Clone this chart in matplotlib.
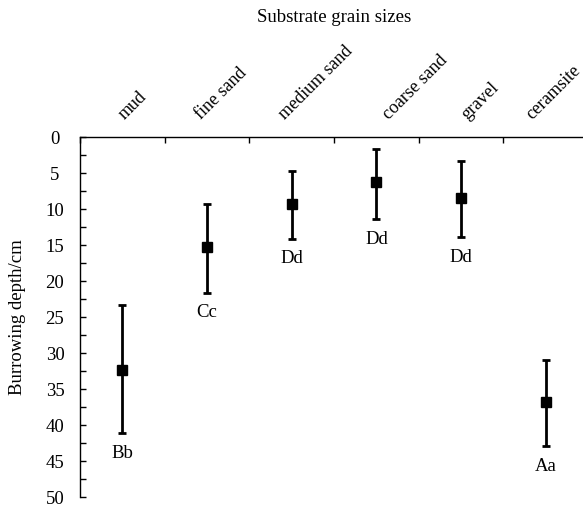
import matplotlib
matplotlib.use("Agg")
import matplotlib.pyplot as plt
from matplotlib.ticker import MultipleLocator, FixedLocator, NullFormatter

plt.rcParams["font.family"] = ["Liberation Serif", "DejaVu Serif"]
plt.rcParams["font.size"] = 13.5

# data
substrates = ["mud", "fine sand", "medium sand", "coarse sand", "gravel", "ceramsite"]
depth_mean = [32.3, 15.3, 9.35, 6.25, 8.5, 36.85]
err_upper = [8.9, 6.0, 4.65, 4.55, 5.2, 5.85]   # towards the surface (smaller depth)
err_lower = [8.85, 6.3, 4.75, 5.15, 5.4, 6.05]  # towards deeper values
groups = ["Bb", "Cc", "Dd", "Dd", "Dd", "Aa"]

# small horizontal nudges (px) of the rotated category labels, as in the original
label_dx = [2, -6, -7, 13, 6, -13]

W, H, DPI = 583, 505, 100
fig = plt.figure(figsize=(W / DPI, H / DPI), dpi=DPI)
# plot area: left spine x=80px, top spine y=137px, bottom y=497px, right edge past the image
ax = fig.add_axes([80 / W, (H - 497) / H, (588 - 80) / W, 360 / H])

x = list(range(1, len(substrates) + 1))
ax.errorbar(x, depth_mean, yerr=[err_upper, err_lower], fmt="s", color="black",
            ecolor="black", elinewidth=2.0, capsize=3, capthick=2.0,
            markersize=7.5, markeredgecolor="black")

for xi, m, lo, g in zip(x, depth_mean, err_lower, groups):
    ax.annotate(g, xy=(xi, m + lo), xytext=(0, -14.5), textcoords="offset points",
                ha="center", va="center")

ax.set_xlim(0.5, len(substrates) + 0.5)
ax.set_ylim(50, 0)

for s in ("right", "bottom"):
    ax.spines[s].set_visible(False)
for s in ("top", "left"):
    ax.spines[s].set_linewidth(1.0)

ax.xaxis.tick_top()
ax.xaxis.set_major_locator(FixedLocator([i + 0.5 for i in range(len(substrates) + 1)]))
ax.xaxis.set_major_formatter(NullFormatter())
ax.tick_params(axis="x", which="major", direction="in", length=4, width=1)

ax.yaxis.set_major_locator(MultipleLocator(5))
ax.yaxis.set_minor_locator(MultipleLocator(2.5))
ax.tick_params(axis="y", which="both", direction="in", length=4, width=1, pad=18)
for lbl in ax.get_yticklabels():
    lbl.set_horizontalalignment("center")
ax.set_ylabel("Burrowing depth/cm", va="center")
ax.yaxis.set_label_coords((18 - 80) / 508, 0.5)

for xi, name, dx in zip(x, substrates, label_dx):
    ax.annotate(name, xy=(xi, 1.0), xycoords=("data", "axes fraction"),
                xytext=(dx * 0.72, 12), textcoords="offset points",
                rotation=45, rotation_mode="anchor", ha="left", va="baseline",
                fontsize=13)

fig.text(334 / W, 1 - 18 / H, "Substrate grain sizes", ha="center", va="center")

fig.savefig("out.png", dpi=DPI)
